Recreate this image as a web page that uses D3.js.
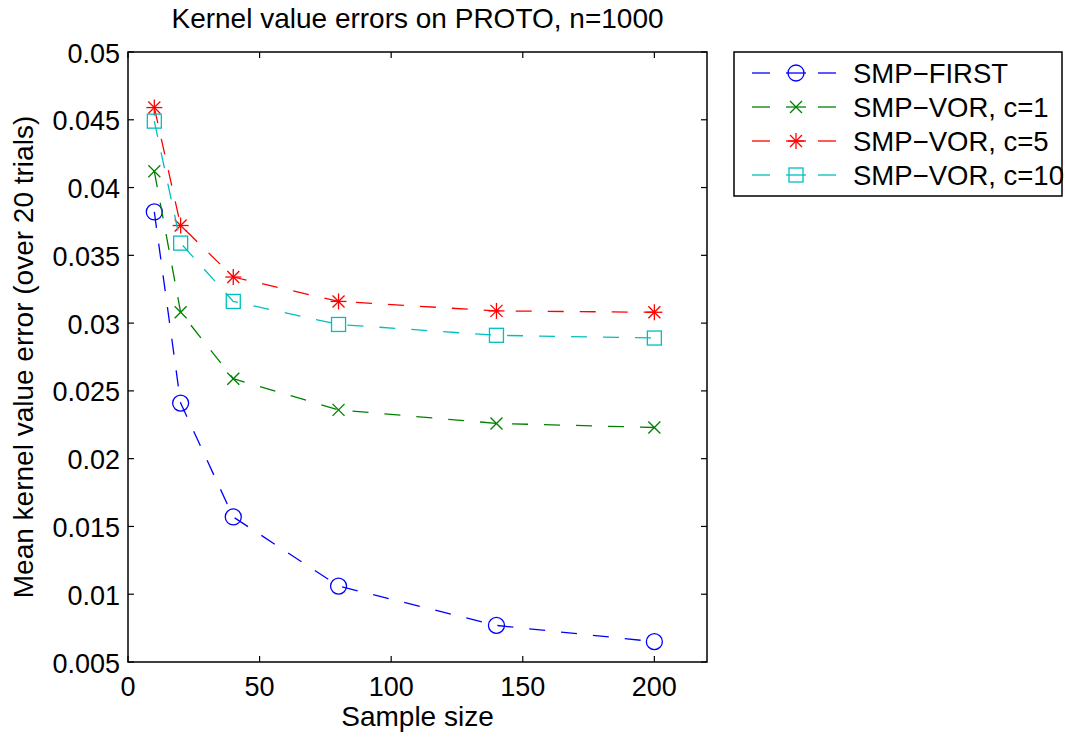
<!DOCTYPE html>
<html>
<head>
<meta charset="utf-8">
<script src="https://cdn.jsdelivr.net/npm/d3@7"></script>
<style>
  html, body { margin: 0; padding: 0; background: #fff; }
  svg { display: block; font-family: "Liberation Sans", Arial, Helvetica, sans-serif; }
</style>
</head>
<body>
<svg id="chart" width="1065" height="738"></svg>
<script>
// ---- data ----
const sampleSizes = [10, 20, 40, 80, 140, 200];
const seriesNames = ["SMP\u2212FIRST", "SMP\u2212VOR, c=1", "SMP\u2212VOR, c=5", "SMP\u2212VOR, c=10"];
const smpFirst = [0.0382, 0.0241, 0.0157, 0.0106, 0.0077, 0.0065];
const smpVor1  = [0.0412, 0.0308, 0.0259, 0.0236, 0.0226, 0.0223];
const smpVor5  = [0.0459, 0.0372, 0.0334, 0.0316, 0.0309, 0.0308];
const smpVor10 = [0.0449, 0.0359, 0.0316, 0.0299, 0.0291, 0.0289];
const xTickValues = [0, 50, 100, 150, 200];
const yTickValues = [0.005, 0.01, 0.015, 0.02, 0.025, 0.03, 0.035, 0.04, 0.045, 0.05];
const yTickLabels = ["0.005", "0.01", "0.015", "0.02", "0.025", "0.03", "0.035", "0.04", "0.045", "0.05"];
const titleText = "Kernel value errors on PROTO, n=1000";
const xLabelText = "Sample size";
const yLabelText = "Mean kernel value error (over 20 trials)";

// ---- styles ----
const colors = ["#0000ff", "#008000", "#ff0000", "#00bfbf"];
const markers = ["circle", "x", "star", "square"];
const seriesValues = [smpFirst, smpVor1, smpVor5, smpVor10];

(function () {
const svg = d3.select("#chart");
const pL = 128, pR = 707, pT = 52, pB = 662;
const tickFs = 27, labelFs = 28, legendFs = 27.5;

const x = d3.scaleLinear().domain([0, 220]).range([pL, pR]);
const y = d3.scaleLinear().domain([0.005, 0.05]).range([pB, pT]);

// axes (ticks inward, mirrored)
const tickLen = 6;
const axisG = svg.append("g").attr("stroke", "#000").attr("stroke-width", 1.2);
xTickValues.forEach(v => {
  axisG.append("line").attr("x1", x(v)).attr("x2", x(v)).attr("y1", pB).attr("y2", pB - tickLen);
  axisG.append("line").attr("x1", x(v)).attr("x2", x(v)).attr("y1", pT).attr("y2", pT + tickLen);
});
yTickValues.forEach(v => {
  axisG.append("line").attr("x1", pL).attr("x2", pL + tickLen).attr("y1", y(v)).attr("y2", y(v));
  axisG.append("line").attr("x1", pR).attr("x2", pR - tickLen).attr("y1", y(v)).attr("y2", y(v));
});
svg.append("rect").attr("x", pL).attr("y", pT).attr("width", pR - pL).attr("height", pB - pT)
  .attr("fill", "none").attr("stroke", "#000").attr("stroke-width", 1.5);

// tick labels
svg.append("g").selectAll("text").data(xTickValues).join("text")
  .attr("x", d => x(d)).attr("y", 696).attr("text-anchor", "middle")
  .attr("font-size", tickFs).text(d => d3.format("d")(d));
svg.append("g").selectAll("text").data(yTickValues).join("text")
  .attr("x", 120).attr("y", d => y(d) + 10.5).attr("text-anchor", "end")
  .attr("font-size", tickFs).text((d, i) => yTickLabels[i]);

// title and axis labels
svg.append("text").attr("x", (pL + pR) / 2).attr("y", 28).attr("text-anchor", "middle")
  .attr("font-size", labelFs).text(titleText);
svg.append("text").attr("x", (pL + pR) / 2).attr("y", 726).attr("text-anchor", "middle")
  .attr("font-size", labelFs).text(xLabelText);
svg.append("text").attr("transform", `translate(33,${(pT + pB) / 2}) rotate(-90)`)
  .attr("text-anchor", "middle").attr("font-size", labelFs).text(yLabelText);

// marker drawing
function drawMarker(g, type, cx, cy, color) {
  const m = g.append("g").attr("transform", `translate(${cx},${cy})`)
    .attr("stroke", color).attr("fill", "none").attr("stroke-width", 1.3);
  if (type === "circle") {
    m.append("circle").attr("r", 8);
  } else if (type === "x") {
    const s = 6;
    m.append("line").attr("x1", -s).attr("y1", -s).attr("x2", s).attr("y2", s);
    m.append("line").attr("x1", -s).attr("y1", s).attr("x2", s).attr("y2", -s);
  } else if (type === "star") {
    const s = 8, d = 6;
    m.append("line").attr("x1", -s).attr("y1", 0).attr("x2", s).attr("y2", 0);
    m.append("line").attr("x1", 0).attr("y1", -s).attr("x2", 0).attr("y2", s);
    m.append("line").attr("x1", -d).attr("y1", -d).attr("x2", d).attr("y2", d);
    m.append("line").attr("x1", -d).attr("y1", d).attr("x2", d).attr("y2", -d);
  } else if (type === "square") {
    m.append("rect").attr("x", -7).attr("y", -7).attr("width", 14).attr("height", 14);
  }
}

const line = d3.line().x(d => x(d[0])).y(d => y(d[1]));
const plotG = svg.append("g");
seriesValues.forEach((vals, i) => {
  const pts = sampleSizes.map((s, j) => [s, vals[j]]);
  plotG.append("path").attr("d", line(pts)).attr("fill", "none")
    .attr("stroke", colors[i]).attr("stroke-width", 1.3).attr("stroke-dasharray", "16,16");
  pts.forEach(p => drawMarker(plotG, markers[i], x(p[0]), y(p[1]), colors[i]));
});

// legend
const lgX = 734, lgY = 52, lgW = 328, lgH = 144;
svg.append("rect").attr("x", lgX).attr("y", lgY).attr("width", lgW).attr("height", lgH)
  .attr("fill", "#fff").attr("stroke", "#000").attr("stroke-width", 1.5);
const rowY = [73, 107, 141, 175];
seriesNames.forEach((name, i) => {
  const g = svg.append("g");
  [[752, 770], [786, 806], [818, 836]].forEach(seg => {
    g.append("line").attr("x1", seg[0]).attr("x2", seg[1]).attr("y1", rowY[i]).attr("y2", rowY[i])
      .attr("stroke", colors[i]).attr("stroke-width", 1.3);
  });
  drawMarker(g, markers[i], 796, rowY[i], colors[i]);
  g.append("text").attr("x", 853).attr("y", rowY[i] + 10).attr("font-size", legendFs).text(name);
});
})();
</script>
</body>
</html>
